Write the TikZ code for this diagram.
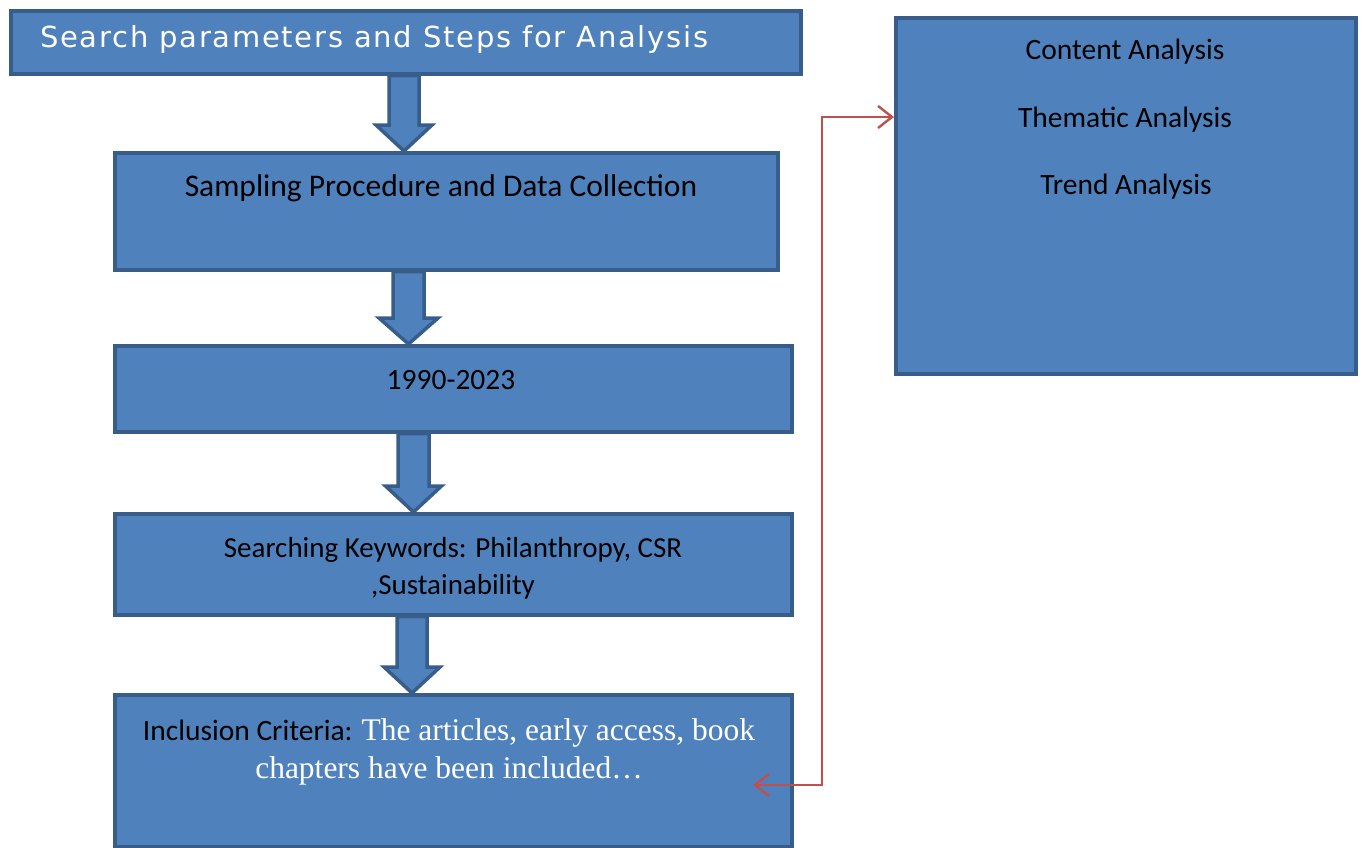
\documentclass[tikz,border=0pt]{standalone}
\usepackage{fontspec}
\usetikzlibrary{arrows.meta,calc}
\newfontfamily\calibri{Carlito}
\newfontfamily\timesf{Liberation Serif}
\newfontfamily\titlef[LetterSpace=6]{DejaVu Sans}
\definecolor{boxfill}{HTML}{4F81BD}
\definecolor{boxline}{HTML}{385D8A}
\definecolor{linkred}{HTML}{C0504D}

% downward block arrow between two stacked boxes
\newcommand{\flowarrow}[5]{% #1 centre x, #2 upper box, #3 lower box, #4 shaft half width, #5 head half width
  \draw[blockarrow] let \p1=(#2.south), \p2=(#3.north) in
    ({(#1-#4)*1pt},\y1) -- ({(#1+#4)*1pt},\y1) -- ({(#1+#4)*1pt},{\y2+26pt})
    -- ({(#1+#5)*1pt},{\y2+26pt}) -- ({#1*1pt},\y2) -- ({(#1-#5)*1pt},{\y2+26pt})
    -- ({(#1-#4)*1pt},{\y2+26pt}) -- cycle;}

\tikzset{
  box/.style={draw=boxline, fill=boxfill, line width=3.5pt, rectangle, inner sep=0pt, anchor=north west},
  blockarrow/.style={draw=boxline, fill=boxfill, line width=3.5pt, line join=miter},
  lbl/.style={font=\calibri\fontsize{29.5}{34}\selectfont, text=black, inner sep=0pt},
  redlink/.style={draw=linkred, line width=2.4pt, {Straight Barb[length=14pt,width=22pt]}-{Straight Barb[length=14pt,width=22pt]}},
}

\begin{document}
\begin{tikzpicture}[x=1pt,y=-1pt]
\useasboundingbox (0,0) rectangle (1363,847);
\clip (0,0) rectangle (1363,847);

% flow boxes
\node[box, minimum width=790pt, minimum height=63pt]  (srch) at (9,9) {};
\node[box, minimum width=663pt, minimum height=117pt] (samp) at (113,151) {};
\node[box, minimum width=677pt, minimum height=86pt]  (yrs)  at (113,344) {};
\node[box, minimum width=677pt, minimum height=101pt] (kw)   at (113,512) {};
\node[box, minimum width=677pt, minimum height=152pt] (inc)  at (113,693) {};
\node[box, minimum width=460pt, minimum height=356pt] (ana)  at (894,16) {};

% block arrows between the stages
\flowarrow{404}{srch}{samp}{15}{28}
\flowarrow{408.5}{samp}{yrs}{15.5}{29.5}
\flowarrow{413.5}{yrs}{kw}{15.5}{28}
\flowarrow{412}{kw}{inc}{15}{28}

% box texts
\node[anchor=west, inner sep=0pt, text=white, font=\titlef\fontsize{29}{32}\selectfont] (srcht) at (40,39)
  {Search parameters and Steps for Analysis};
\node[lbl, font=\calibri\fontsize{31.5}{34}\selectfont] (sampt) at (441,188.5) {Sampling Procedure and Data Collection};
\node[lbl] (yrst) at (451,380.5) {1990-2023};
\node[lbl, align=center, font=\calibri\fontsize{29}{37}\selectfont] (kwt) at (453,568)
  {Searching Keywords: Philanthropy, CSR\\,Sustainability};
\node[lbl, align=center, font=\calibri\fontsize{29.5}{38}\selectfont] (inct) at (449,752)
  {Inclusion Criteria: {\timesf\fontsize{31.5}{38}\selectfont\color{white}The articles, early access, book}\\
   {\timesf\fontsize{31.5}{38}\selectfont\color{white}chapters have been included…}};

\node[lbl] (cont) at (1125,51.5) {Content Analysis};
\node[lbl] (thm)  at (1125,119.5) {Thematic Analysis};
\node[lbl] (trnd) at (1126,186.5) {Trend Analysis};

% feedback link between inclusion step and analysis box
\coordinate (incin) at (753,785);
\coordinate (thmin) at (894,117);
\draw[redlink] (incin) -- ++(69,0) |- (ana.west |- thmin);
\end{tikzpicture}
\end{document}
